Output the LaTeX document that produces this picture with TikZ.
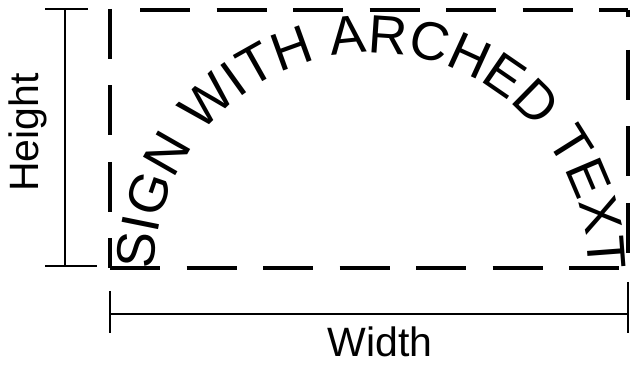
\documentclass[tikz,border=0pt]{standalone}
\usepackage{fontspec}
\newfontfamily\dimfont{Liberation Sans}
\usetikzlibrary{decorations.text}
\tikzset{
  dashside/.style={line width=3.5pt, dash pattern=on 50pt off 26.5pt, line cap=butt},
  dimline/.style={line width=1.2pt},
  dimlabel/.style={font=\dimfont\fontsize{41}{41}\selectfont, inner sep=0pt, anchor=base}
}
\begin{document}
\begin{tikzpicture}[x=1pt,y=1pt]
\useasboundingbox (0,0) rectangle (632,367);
% dashed sign outline
\coordinate (tl) at (110,358);
\coordinate (ts) at (140,357);
\coordinate (tr) at (628,357);
\coordinate (trc) at (628,350);
\coordinate (rs) at (628,317);
\coordinate (bl) at (110,99);
\coordinate (br) at (628,99);
\draw[dashside] (ts) -- (tr);
\draw[line width=3.5pt] (tr) -- (trc);
\draw[dashside] (tl) -- (bl);
\draw[dashside] (bl) -- (br);
\draw[dashside] (rs) -- (br);
% height dimension
\coordinate (ht) at (65,358);
\coordinate (hb) at (65,101);
\coordinate (htl) at (45,358);
\coordinate (htr) at (88,358);
\coordinate (hbl) at (45,101);
\coordinate (hbr) at (97,101);
\draw[dimline] (ht) -- (hb);
\draw[dimline] (htl) -- (htr);
\draw[dimline] (hbl) -- (hbr);
\node[dimlabel, rotate=90] (hlabel) at (38,234.5) {Height};
% width dimension
\coordinate (wl) at (110,53);
\coordinate (wr) at (628,53);
\coordinate (wlt) at (110,76);
\coordinate (wlb) at (110,34);
\coordinate (wrt) at (628,85);
\coordinate (wrb) at (628,34);
\draw[dimline] (wl) -- (wr);
\draw[dimline] (wlt) -- (wlb);
\draw[dimline] (wrt) -- (wrb);
\node[dimlabel] (wlabel) at (380,11) {Width};
% arched text
\coordinate (arcc) at (371.5,97);
\path[decorate, decoration={text along path,
    text={|\dimfont\fontsize{54}{54}\selectfont|SIGN WITH ARCHED TEXT},
    text align=fit to path}]
  (arcc) ++(180:217pt) arc[start angle=180, end angle=0, radius=217pt];
\end{tikzpicture}
\end{document}
